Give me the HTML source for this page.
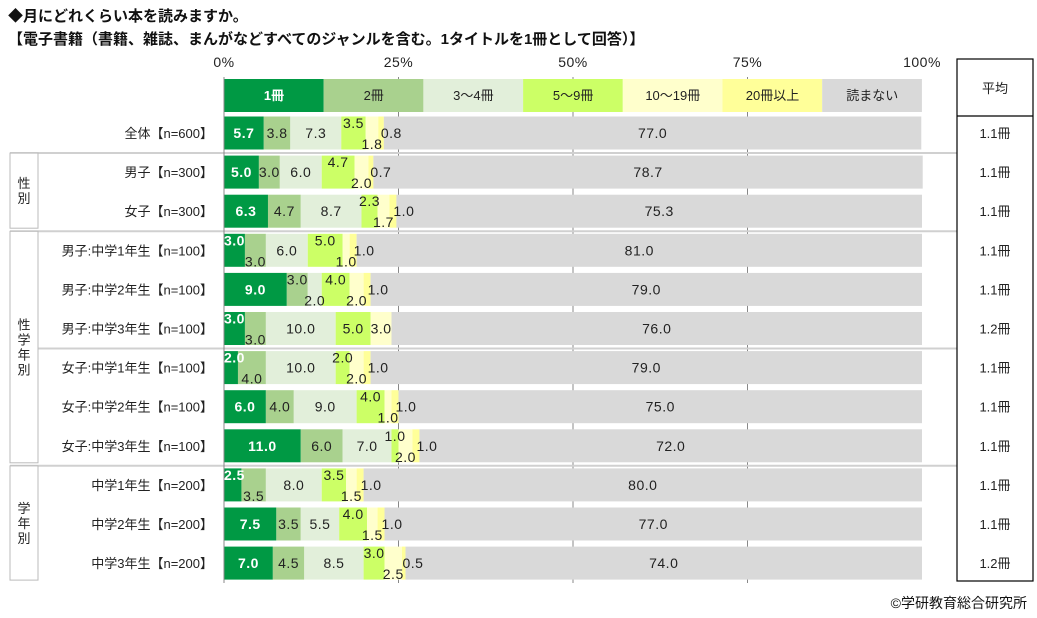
<!DOCTYPE html>
<html><head><meta charset="utf-8"><style>
body{margin:0;background:#fff;}
svg{display:block;font-family:"Liberation Sans","Noto Sans CJK JP",sans-serif;}
</style></head><body>
<svg id="c" width="1037" height="618" xmlns="http://www.w3.org/2000/svg">
<text x="8" y="21" font-size="15" font-weight="bold" fill="#111">◆月にどれくらい本を読みますか。</text>
<text x="8" y="44" font-size="15" font-weight="bold" fill="#111">【電子書籍（書籍、雑誌、まんがなどすべてのジャンルを含む。1タイトルを1冊として回答）】</text>
<text x="1027" y="608" font-size="14" text-anchor="end" fill="#111">©学研教育総合研究所</text>
<g id="g"></g>
<g id="lbl"></g>
</svg>
<script>
const categories=["全体【n=600】","男子【n=300】","女子【n=300】","男子:中学1年生【n=100】","男子:中学2年生【n=100】","男子:中学3年生【n=100】","女子:中学1年生【n=100】","女子:中学2年生【n=100】","女子:中学3年生【n=100】","中学1年生【n=200】","中学2年生【n=200】","中学3年生【n=200】"];
const seriesNames=["1冊","2冊","3～4冊","5～9冊","10～19冊","20冊以上","読まない"];
const s1=[5.7,5.0,6.3,3.0,9.0,3.0,2.0,6.0,11.0,2.5,7.5,7.0];
const s2=[3.8,3.0,4.7,3.0,3.0,3.0,4.0,4.0,6.0,3.5,3.5,4.5];
const s3=[7.3,6.0,8.7,6.0,2.0,10.0,10.0,9.0,7.0,8.0,5.5,8.5];
const s4=[3.5,4.7,2.3,5.0,4.0,5.0,2.0,4.0,1.0,3.5,4.0,3.0];
const s5=[1.8,2.0,1.7,1.0,2.0,3.0,2.0,1.0,2.0,1.5,1.5,2.5];
const s6=[0.8,0.7,1.0,1.0,1.0,0,1.0,1.0,1.0,1.0,1.0,0.5];
const s7=[77.0,78.7,75.3,81.0,79.0,76.0,79.0,75.0,72.0,80.0,77.0,74.0];
const averages=["1.1冊","1.1冊","1.1冊","1.1冊","1.1冊","1.2冊","1.1冊","1.1冊","1.1冊","1.1冊","1.1冊","1.2冊"];
const tickLabels=["0%","25%","50%","75%","100%"];
const tickValues=[0,25,50,75,100];
const groups=[["性別",1,2],["性学年別",3,8],["学年別",9,11]];
const colors=["#009944","#a9d18e","#e2efda","#ccff66","#ffffcc","#ffff99","#d9d9d9"];
const series=[s1,s2,s3,s4,s5,s6,s7];
const NS="http://www.w3.org/2000/svg";
const g=document.getElementById('g');
const lbl=document.getElementById('lbl');
const x=v=>224+v*6.98;
const rowY=i=>133+i*39.1;
function el(t,a,p){const e=document.createElementNS(NS,t);for(const k in a)e.setAttribute(k,a[k]);(p||g).appendChild(e);return e;}
function txt(s,a,p){const e=el('text',a,p);e.textContent=s;return e;}
tickValues.forEach((v,i)=>{
 if(v>0&&v<100){const l=el('line',{x1:x(v),x2:x(v),y1:77,y2:583,stroke:'#888','stroke-width':1});
 }
 const t=txt(tickLabels[i],{x:x(v),y:67,'font-size':14,'text-anchor':'middle',fill:'#222','letter-spacing':'0.5'});
 
});
[0,2,5,8].forEach(i=>{const y=rowY(i)+20;const l=el('line',{x1:10,x2:957,y1:y,y2:y,stroke:'#d0d0d0','stroke-width':2});
});
seriesNames.forEach((n,k)=>{
 const r=el('rect',{x:224+k*99.7,y:79,width:99.7,height:33,fill:colors[k]});
 
 const t=txt(n,{x:224+k*99.7+50,y:100,'font-size':13,'text-anchor':'middle',fill:k==0?'#fff':'#222','font-weight':k==0?'bold':'normal'},lbl);
 
});
categories.forEach((c,i)=>{
 const cy=rowY(i);
 const lt=txt(c,{x:213,y:cy+5,'font-size':13,'text-anchor':'end',fill:'#222'});
 
 let cum=0;const vals=series.map(s=>s[i]);
 const pos=vals.map(()=> 'c');
 if(vals[0]<4){pos[0]='t';pos[1]='b';}
 else if(vals[2]<3){pos[1]='t';pos[2]='b';}
 if(vals[5]>0){pos[3]='t';pos[4]='b';pos[5]='r';}
 vals.forEach((v,k)=>{
  const x0=x(cum),x1=x(cum+v);cum+=v;
  if(v<=0)return;
  const r=el('rect',{x:x0,y:cy-16.5,width:x1-x0,height:33,fill:colors[k]});
  
  let tx=(x0+x1)/2,ty=cy+5,anchor='middle';
  if(pos[k]=='t'){ty=cy-5;if(k==0){tx=x0;anchor='start';}}
  else if(pos[k]=='b'){ty=cy+16;}
  else if(pos[k]=='r'){tx=x1-3;anchor='start';}
  const t=txt(v.toFixed(1),{x:tx,y:ty,'font-size':14,'text-anchor':anchor,fill:k==0?'#fff':'#222','font-weight':k==0?'bold':'normal','letter-spacing':'0.5'},lbl);
  
 });
 const a=txt(averages[i],{x:995,y:cy+5,'font-size':13,'text-anchor':'middle',fill:'#222'},lbl);
 
});
const ax=el('line',{x1:224,x2:224,y1:77,y2:583,stroke:'#888','stroke-width':1});

groups.forEach(gr=>{
 const y0=rowY(gr[1])-19,y1=rowY(gr[2])+17;
 const b=el('rect',{x:10,y:y0,width:28,height:y1-y0,fill:'#fff',stroke:'#bbb'});
 
 const chars=[...gr[0]];const mid=(y0+y1)/2;
 chars.forEach((ch,j)=>{const t=txt(ch,{x:24,y:mid+(j-(chars.length-1)/2)*15+5,'font-size':13,'text-anchor':'middle',fill:'#222'});
 });
});
const ab=el('rect',{x:957,y:59,width:76,height:522,fill:'none',stroke:'#000','stroke-width':1.2});

const al=el('line',{x1:957,x2:1033,y1:116,y2:116,stroke:'#000','stroke-width':1.2});

const ah=txt('平均',{x:995,y:93,'font-size':13,'text-anchor':'middle',fill:'#222'});

</script>
</body></html>
